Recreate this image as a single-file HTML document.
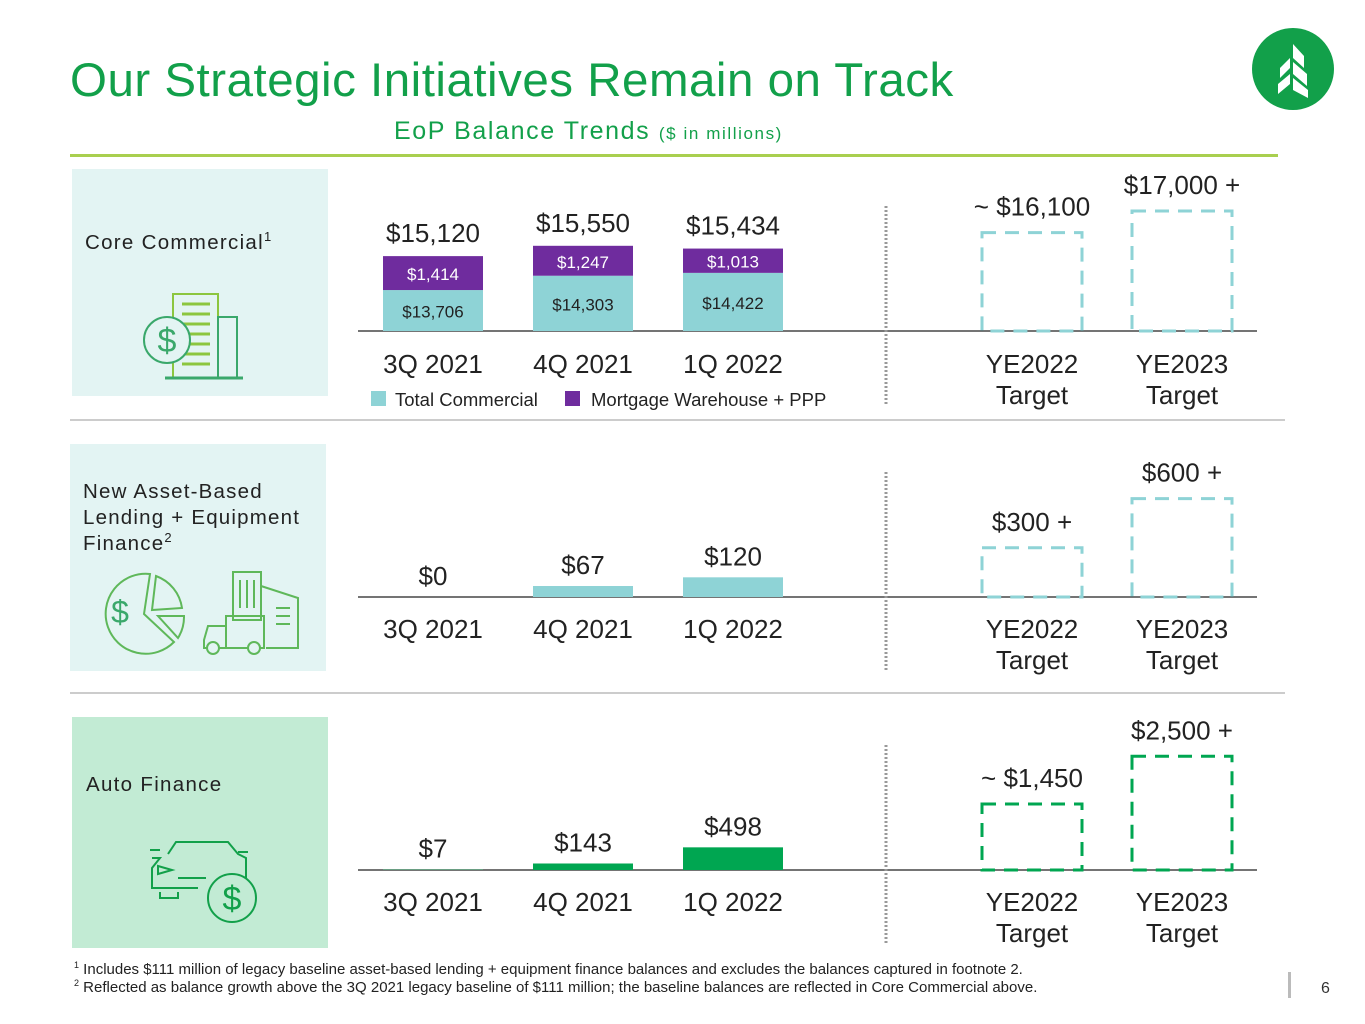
<!DOCTYPE html>
<html><head><meta charset="utf-8">
<style>
body{margin:0;width:1365px;height:1024px;background:#fff;font-family:"Liberation Sans",sans-serif;position:relative;overflow:hidden}
.abs{position:absolute}
svg text{font-family:"Liberation Sans",sans-serif}
sup{line-height:0}
</style></head><body>
<div class="abs" style="left:70px;top:53px;font-size:47.5px;color:#12a04a;letter-spacing:0.5px">Our Strategic Initiatives Remain on Track</div>
<div class="abs" style="left:394px;top:117px;font-size:25px;color:#12a04a;letter-spacing:1.6px">EoP Balance Trends <span style="font-size:17px">($ in millions)</span></div>
<svg class="abs" style="left:1252px;top:28px" width="82" height="82" viewBox="0 0 82 82">
<circle cx="41" cy="41" r="41" fill="#12a04a"/>
<path d="M41 16 L52 28 L52 40 L41 30Z M41 34 L55 46 L55 58 L41 46Z M41 50 L56 62 L56 70 L41 62Z M38 30 L28 40 L28 50 L38 40Z M38 46 L26 56 L26 66 L38 56Z" fill="#fff"/>
</svg>
<div class="abs" style="left:70px;top:154px;width:1208px;height:3px;background:#a9cf4f"></div>
<div class="abs" style="left:72px;top:169px;width:256px;height:227px;background:#e3f4f3"></div>
<div class="abs" style="left:85px;top:231px;font-size:20.5px;color:#222;letter-spacing:1.3px">Core Commercial<sup style="font-size:13px">1</sup></div>
<svg class="abs" style="left:140px;top:290px" width="110" height="92"><g fill="none"><rect x="33" y="4" width="45" height="84" stroke="#8cc63f" stroke-width="2"/><rect x="78" y="27" width="19" height="61" stroke="#3aa86b" stroke-width="2"/><g stroke="#8cc63f" stroke-width="3"><line x1="42" y1="14" x2="70" y2="14"/><line x1="42" y1="24" x2="70" y2="24"/><line x1="42" y1="34" x2="70" y2="34"/><line x1="42" y1="44" x2="70" y2="44"/><line x1="42" y1="54" x2="70" y2="54"/><line x1="42" y1="64" x2="70" y2="64"/><line x1="42" y1="74" x2="70" y2="74"/></g><line x1="25" y1="88" x2="103" y2="88" stroke="#3aa86b" stroke-width="3"/><circle cx="27" cy="50" r="23" fill="#e3f4f3" stroke="#3aa86b" stroke-width="2"/></g><text x="27" y="62" text-anchor="middle" font-size="34" fill="#3aa86b">$</text></svg>
<div class="abs" style="left:70px;top:419px;width:1215px;height:2px;background:#ccc"></div>
<div class="abs" style="left:70px;top:444px;width:256px;height:227px;background:#e3f4f3"></div>
<div class="abs" style="left:83px;top:479px;font-size:20.5px;color:#222;line-height:26px;letter-spacing:1.2px">New Asset-Based<br>Lending + Equipment<br>Finance<sup style="font-size:13px">2</sup></div>
<svg class="abs" style="left:98px;top:568px" width="210" height="92"><g fill="none" stroke="#5fb85a" stroke-width="2"><path d="M52 6 A40 40 0 1 0 76 74 L46 46 Z"/><path d="M58 8 A40 40 0 0 1 84 40 L54 42 Z"/><path d="M60 48 L86 48 A40 40 0 0 1 80 70 Z"/><rect x="135" y="4" width="28" height="48"/><line x1="142" y1="12" x2="142" y2="40"/><line x1="149" y1="12" x2="149" y2="40"/><line x1="156" y1="12" x2="156" y2="40"/><path d="M163 18 L200 30 L200 80 L168 80"/><line x1="178" y1="40" x2="192" y2="40"/><line x1="178" y1="48" x2="192" y2="48"/><line x1="178" y1="56" x2="192" y2="56"/><rect x="128" y="48" width="38" height="32"/><path d="M128 58 L110 58 L106 72 L106 80 L128 80"/><circle cx="115" cy="80" r="6" fill="#e3f4f3"/><circle cx="156" cy="80" r="6" fill="#e3f4f3"/></g><text x="22" y="55" text-anchor="middle" font-size="32" fill="#3aa86b">$</text></svg>
<div class="abs" style="left:70px;top:692px;width:1215px;height:2px;background:#ccc"></div>
<div class="abs" style="left:72px;top:717px;width:256px;height:231px;background:#c2ebd4"></div>
<div class="abs" style="left:86px;top:773px;font-size:20.5px;color:#222;letter-spacing:1.3px">Auto Finance</div>
<svg class="abs" style="left:148px;top:838px" width="115" height="86"><g fill="none" stroke="#12a04a" stroke-width="2"><path d="M20 16 L28 4 L80 4 L90 16 L98 20 L98 40 M4 20 L12 20 L4 30 L4 50 L50 50 M12 54 L12 60 L30 60 L30 54 M2 12 L12 12 M90 14 L100 14"/><path d="M10 28 L24 32 L10 36Z"/><line x1="30" y1="40" x2="58" y2="40"/><circle cx="84" cy="60" r="24" fill="#c2ebd4"/></g><text x="84" y="72" text-anchor="middle" font-size="34" fill="#12a04a">$</text></svg>
<svg class="abs" id="chart" style="left:0;top:0" width="1365" height="1024"></svg>
<div class="abs" style="left:74px;top:961px;font-size:15px;color:#222;white-space:nowrap"><sup style="font-size:9px">1</sup> Includes $111 million of legacy baseline asset-based lending + equipment finance balances and excludes the balances captured in footnote 2.</div>
<div class="abs" style="left:74px;top:979px;font-size:15px;color:#222;white-space:nowrap"><sup style="font-size:9px">2</sup> Reflected as balance growth above the 3Q 2021 legacy baseline of $111 million; the baseline balances are reflected in Core Commercial above.</div>
<div class="abs" style="left:1288px;top:972px;width:3px;height:26px;background:#bbb"></div>
<div class="abs" style="left:1321px;top:980px;font-size:16px;color:#333">6</div>
<script>
const periods=["3Q 2021","4Q 2021","1Q 2022"];
const targets=["YE2022","YE2023"];
const coreTotal=[13706,14303,14422];
const coreMW=[1414,1247,1013];
const coreSums=[15120,15550,15434];
const coreTargets=[16100,17000];
const ablValues=[0,67,120];
const ablTargets=[300,600];
const autoValues=[7,143,498];
const autoTargets=[1450,2500];
const NS="http://www.w3.org/2000/svg";
const svg=document.getElementById('chart');
const xs=[433,583,733],txs=[1032,1182],BW=100;
function mk(t,a,txt){const e=document.createElementNS(NS,t);for(const k in a)e.setAttribute(k,a[k]);if(txt!==undefined)e.textContent=txt;svg.appendChild(e);return e;}
function fmt(v){return '$'+v.toLocaleString('en-US');}
function axisBase(base,ly){
 let l=mk('line',{x1:358,x2:1257,y1:base,y2:base,stroke:'#222','stroke-width':1.3});
 
 let d=mk('line',{x1:886,x2:886,y1:base-125,y2:base+75,stroke:'#999','stroke-width':3,'stroke-dasharray':'2 2'});
 
 periods.forEach((p,i)=>{let t=mk('text',{x:xs[i],y:ly,'text-anchor':'middle','font-size':26,fill:'#222'},p);
  });
 targets.forEach((p,i)=>{let t=mk('text',{x:txs[i],y:ly,'text-anchor':'middle','font-size':26,fill:'#222'},p);
  
  let t2=mk('text',{x:txs[i],y:ly+31,'text-anchor':'middle','font-size':26,fill:'#222'},'Target');
  });
}
function target(i,base,h,color,label,tilde,plus){
 let r=mk('rect',{x:txs[i]-BW/2,y:base-h,width:BW,height:h,fill:'none',stroke:color,'stroke-width':3,'stroke-dasharray':'14 9'});
 
 let t=mk('text',{x:txs[i],y:base-h-17,'text-anchor':'middle','font-size':26,fill:'#222'},(tilde?'~ ':'')+label+(plus?' +':''));
 
}
const b1=331,s1=0.024,off=12000;
axisBase(b1,373);
coreTotal.forEach((v,i)=>{
 const ht=(v-off)*s1,hm=coreMW[i]*s1;
 let r=mk('rect',{x:xs[i]-BW/2,y:b1-ht,width:BW,height:ht,fill:'#8ed3d6'});
 
 let m=mk('rect',{x:xs[i]-BW/2,y:b1-ht-hm,width:BW,height:hm,fill:'#6f2c9e'});
 
 let t=mk('text',{x:xs[i],y:b1-ht/2+7,'text-anchor':'middle','font-size':17,fill:'#222'},fmt(v));
 
 let t2=mk('text',{x:xs[i],y:b1-ht-hm/2+7,'text-anchor':'middle','font-size':17,fill:'#fff'},fmt(coreMW[i]));
 
 let t3=mk('text',{x:xs[i],y:b1-ht-hm-14,'text-anchor':'middle','font-size':26,fill:'#222'},fmt(coreSums[i]));
 
});
coreTargets.forEach((v,i)=>target(i,b1,(v-off)*s1,'#8ed3d6',fmt(v),i==0,i==1));
let lg=mk('rect',{x:371,y:391,width:15,height:15,fill:'#8ed3d6'});
let lt=mk('text',{x:395,y:406,'font-size':18.5,fill:'#222'},'Total Commercial');
let lg2=mk('rect',{x:565,y:391,width:15,height:15,fill:'#6f2c9e'});
let lt2=mk('text',{x:591,y:406,'font-size':18.5,fill:'#222'},'Mortgage Warehouse + PPP');
const b2=597,s2=0.164;
axisBase(b2,638);
ablValues.forEach((v,i)=>{const h=v*s2;
 let r=mk('rect',{x:xs[i]-BW/2,y:b2-h,width:BW,height:h,fill:'#8ed3d6'});
 
 let t=mk('text',{x:xs[i],y:b2-h-12,'text-anchor':'middle','font-size':26,fill:'#222'},fmt(v));
 });
ablTargets.forEach((v,i)=>target(i,b2,v*s2,'#8ed3d6',fmt(v),false,true));
const b3=870,s3=0.0455;
axisBase(b3,911);
autoValues.forEach((v,i)=>{const h=v*s3;
 let r=mk('rect',{x:xs[i]-BW/2,y:b3-h,width:BW,height:h,fill:'#00a651'});
 
 let t=mk('text',{x:xs[i],y:b3-h-12,'text-anchor':'middle','font-size':26,fill:'#222'},fmt(v));
 });
autoTargets.forEach((v,i)=>target(i,b3,v*s3,'#00a651',fmt(v),i==0,i==1));
</script>
</body></html>
